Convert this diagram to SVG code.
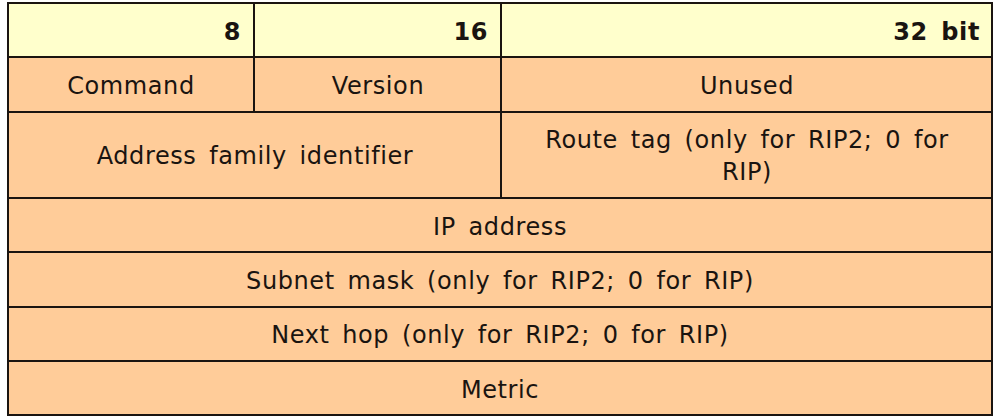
<svg xmlns="http://www.w3.org/2000/svg" width="996" height="418" viewBox="0 0 996 418">
<style>
.hdr{fill:#FFFFCC}
.body{fill:#FFCC99}
.ln{stroke:#1a1410;stroke-width:2;fill:none}
text{font-family:"DejaVu Sans","Liberation Sans",sans-serif;font-size:24px;fill:#1a1410;letter-spacing:0.6px;word-spacing:4.5px}
.c{text-anchor:middle}
.b{font-weight:bold;text-anchor:end}
</style>
<rect x="0" y="0" width="996" height="418" fill="#ffffff"/>
<g id="header">
<rect class="hdr" x="8" y="3" width="984" height="54"/>
</g>
<g id="body-bg">
<rect class="body" x="8" y="57" width="984" height="358"/>
</g>
<g id="h8"><text class="b" x="241" y="40">8</text></g>
<g id="h16"><text class="b" x="488" y="40">16</text></g>
<g id="h32"><text class="b" x="980" y="40">32 bit</text></g>
<g id="command"><text class="c" x="131" y="94">Command</text></g>
<g id="version"><text class="c" x="378" y="94">Version</text></g>
<g id="unused"><text class="c" x="747" y="94">Unused</text></g>
<g id="afi"><text class="c" x="255" y="164">Address family identifier</text></g>
<g id="routetag"><text class="c" x="747" y="148">Route tag (only for RIP2; 0 for</text><text class="c" x="747" y="180">RIP)</text></g>
<g id="ip"><text class="c" x="500" y="235">IP address</text></g>
<g id="subnet"><text class="c" x="500" y="289">Subnet mask (only for RIP2; 0 for RIP)</text></g>
<g id="nexthop"><text class="c" x="500" y="343">Next hop (only for RIP2; 0 for RIP)</text></g>
<g id="metric"><text class="c" x="500" y="398">Metric</text></g>
<g id="connectors">
<rect class="ln" x="8" y="3" width="984" height="412"/>
<path class="ln" d="M8 57H992M8 112H992M8 198H992M8 252H992M8 307H992M8 361H992M254 3V112M501 3V198"/>
</g>
</svg>
